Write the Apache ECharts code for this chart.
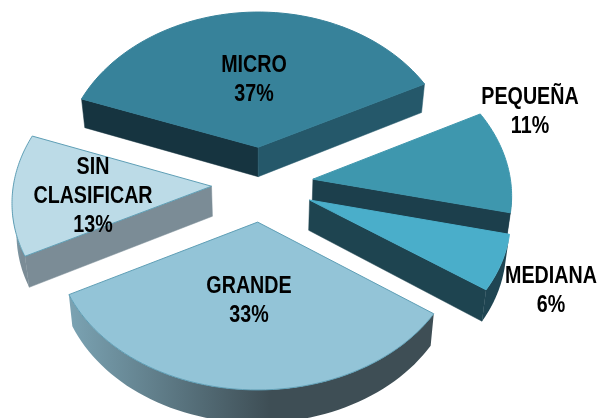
<!DOCTYPE html>
<html>
<head>
<meta charset="utf-8">
<style>
html, body { margin: 0; padding: 0; background: #fff; }
#chart { width: 598px; height: 418px; }
</style>
<script src="https://cdn.jsdelivr.net/npm/echarts@6/dist/echarts.min.js"></script>
</head>
<body>
<div id="chart"></div>
<script>
var categories = ['MICRO', 'PEQUEÑA', 'MEDIANA', 'GRANDE', 'SIN\nCLASIFICAR'];
var shares = [37, 11, 6, 33, 13];

var topColors = ['#37829a', '#3e97ae', '#4aaeca', '#93c4d7', '#bcdbe7'];
var edgeColors = ['#37829a', '#3e97ae', '#4aaeca', '#5f9fb6', '#5f9fb6'];
var startWall = ['#163440', '#1c3f4c', '#1e4450', '#3e5058', '#7b8c96'];
var endWall = ['#25586a', '#1c3f4c', '#1e4450', '#3e5058', '#7b8c96'];
var arcWallFrom = ['#25586a', '#1c3f4c', '#1f4552', '#7ba3b3', '#7fa6b6'];
var arcWallTo = ['#25586a', '#1c3f4c', '#1f4552', '#3e4e55', '#7b8c96'];
var labelPos = [[254, 80], [530, 112], [551, 291], [249, 301], [93, 196]];
var explode = [0.25, 0.265, 0.265, 0.25, 0.25];

var startAngle = -70;
var centerX = 261, centerY = 184;
var scaleX = 198, scaleY = 150, depthKx = 0.09, depthKy = 0.072, wallH = 30;
var bottomShrink = 0.982;

var total = shares.reduce(function (a, b) { return a + b; }, 0);

function project(x, y) {
    var wx = 1 / (1 - depthKx * y);
    var wy = 1 / (1 - depthKy * y);
    return [centerX + scaleX * x * wx, centerY + scaleY * y * wy, wallH * wy];
}

// bottom edge of a wall, pulled a little to the middle as it goes away from the camera
function down(p) {
    return [centerX + (p[0] - centerX) * bottomShrink, p[1] + p[2]];
}

function renderSlice(params, api) {
    var i = params.dataIndex;
    var before = 0;
    for (var j = 0; j < i; j++) before += shares[j];
    var a0 = startAngle + before / total * 360;
    var a1 = a0 + shares[i] / total * 360;
    var mid = (a0 + a1) / 2 * Math.PI / 180;
    var ox = explode[i] * Math.sin(mid), oy = -explode[i] * Math.cos(mid);

    var apex = project(ox, oy);
    var arc = [];
    var steps = 60;
    for (var s = 0; s <= steps; s++) {
        var a = (a0 + (a1 - a0) * s / steps) * Math.PI / 180;
        arc.push(project(ox + Math.sin(a), oy - Math.cos(a)));
    }

    var children = [];
    function wall(from, to, fill) {
        children.push({
            type: 'polygon',
            shape: { points: [from.slice(0, 2), to.slice(0, 2), down(to), down(from)] },
            style: { fill: fill, stroke: fill, lineWidth: 0.5 }
        });
    }

    // side faces, only those turned to the viewer
    if (arc[0][0] < apex[0]) wall(apex, arc[0], startWall[i]);
    if (apex[0] < arc[steps][0]) wall(arc[steps], apex, endWall[i]);

    var upper = [], lower = [];
    for (var k = 0; k < steps; k++) {
        if (arc[k + 1][0] < arc[k][0]) {
            if (!upper.length) upper.push(arc[k].slice(0, 2));
            upper.push(arc[k + 1].slice(0, 2));
            if (!lower.length) lower.push(down(arc[k]));
            lower.push(down(arc[k + 1]));
        }
    }
    if (upper.length) {
        // gradient runs from the left end of the curved wall to its right end
        var fill = new echarts.graphic.LinearGradient(0, 0, 1, 0, [
            { offset: 0, color: arcWallFrom[i] },
            { offset: 0.55, color: arcWallTo[i] },
            { offset: 1, color: arcWallTo[i] }
        ]);
        children.push({
            type: 'polygon',
            shape: { points: upper.concat(lower.reverse()) },
            style: { fill: fill }
        });
    }

    var face = [apex.slice(0, 2)].concat(arc.map(function (p) { return p.slice(0, 2); }));
    children.push({
        type: 'polygon',
        shape: { points: face },
        style: { fill: topColors[i], stroke: edgeColors[i], lineWidth: 1 }
    });

    children.push({
        type: 'text',
        x: labelPos[i][0],
        y: labelPos[i][1],
        scaleX: 0.82,
        z2: 10,
        style: {
            text: categories[i] + '\n' + shares[i] + '%',
            fontFamily: '"Liberation Sans", Arial, sans-serif',
            fontWeight: 'bold',
            fontSize: 24,
            lineHeight: 29,
            fill: '#000',
            align: 'center',
            verticalAlign: 'middle'
        }
    });

    return { type: 'group', children: children };
}

var myChart = echarts.init(document.getElementById('chart'));
var option = {
    animation: false,
    backgroundColor: '#fff',
    series: [{
        type: 'custom',
        coordinateSystem: 'none',
        renderItem: renderSlice,
        data: shares
    }]
};
myChart.setOption(option);
</script>
</body>
</html>
